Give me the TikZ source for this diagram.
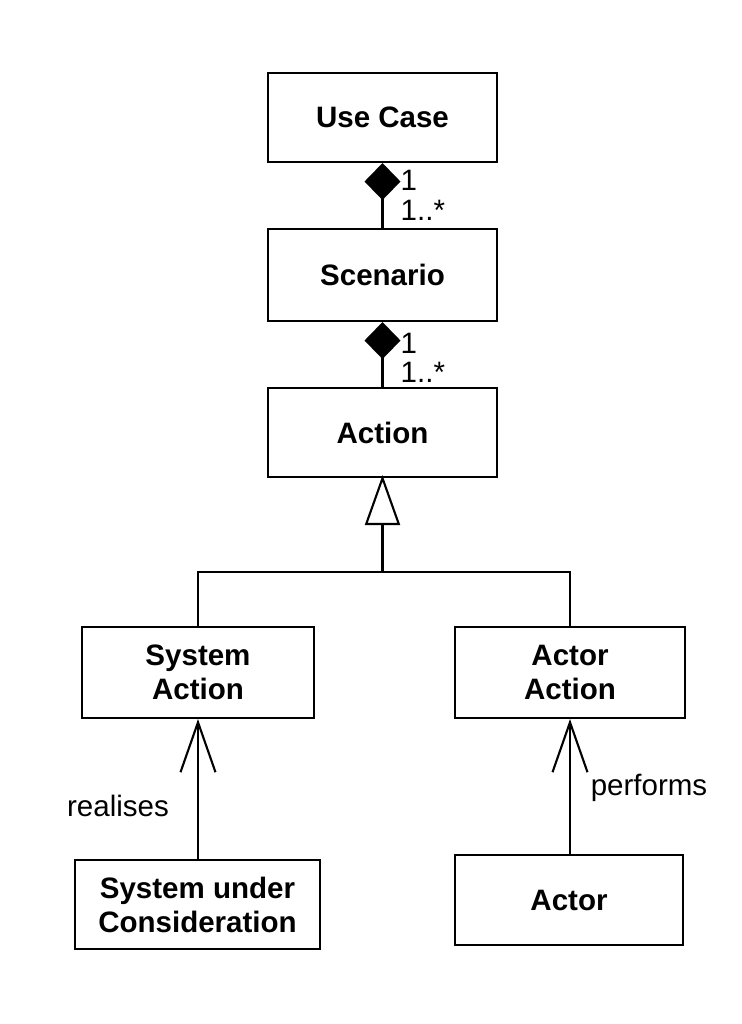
\documentclass[tikz,border=0pt]{standalone}
\usepackage{fontspec}
\setmainfont{Liberation Sans}
\usetikzlibrary{positioning,calc,arrows.meta}
\tikzset{
  cls/.style={draw, line width=0.6pt, minimum width=22.9mm, minimum height=8.9mm, align=center, font=\bfseries\fontsize{8.4}{9.7}\selectfont},
  mult/.style={anchor=west, inner sep=0pt, font=\fontsize{8.4}{9.7}\selectfont},
  comp/.style={{Diamond[length=3.7mm, width=3.6mm]}-, line width=0.6pt},
  gen/.style={-{Triangle[open, length=5mm, width=3.5mm]}, line width=0.6pt, shorten >=-0.3mm},
  dep/.style={-{Straight Barb[length=5mm, width=3.5mm]}, line width=0.6pt}}

\begin{document}
\begin{tikzpicture}[font=\fontsize{8.4}{9.7}\selectfont]
\useasboundingbox (0,0) rectangle (7.42,10.24);
\node[cls] (uc) at (3.825,9.065) {Use Case};
\node[cls, minimum height=9.2mm] (sc) at (3.825,7.49) {Scenario};
\node[cls] (ac) at (3.825,5.915) {Action};
\node[cls, minimum width=23.2mm, minimum height=9.1mm] (sa) at (1.98,3.515) {System\\Action};
\node[cls, minimum width=23mm, minimum height=9.1mm] (aa) at (5.70,3.515) {Actor\\Action};
\node[cls, minimum width=24.5mm] (suc) at (1.975,1.195) {System under\\Consideration};
\node[cls, minimum width=22.8mm, minimum height=9mm] (act) at (5.69,1.24) {Actor};
% composition
\draw[comp] (uc) -- (sc);
\node[mult] at (4.00,8.44) {1};
\node[mult] at (4.00,8.14) {1..*};
\draw[comp] (sc) -- (ac);
\node[mult] at (4.00,6.81) {1};
\node[mult] at (4.00,6.52) {1..*};
% generalisation
\coordinate (jn) at (3.825,4.52);
\draw[gen] (jn) -- (ac);
\draw[line width=0.6pt] (sa.north) |- (jn) -| (aa.north);
% dependencies
\draw[dep] (suc.north -| sa.south) -- (sa.south);
\node at (1.18,2.18) {realises};
\draw[dep] (act.north -| aa.south) -- (aa.south);
\node at (6.49,2.36) {performs};
\end{tikzpicture}
\end{document}
